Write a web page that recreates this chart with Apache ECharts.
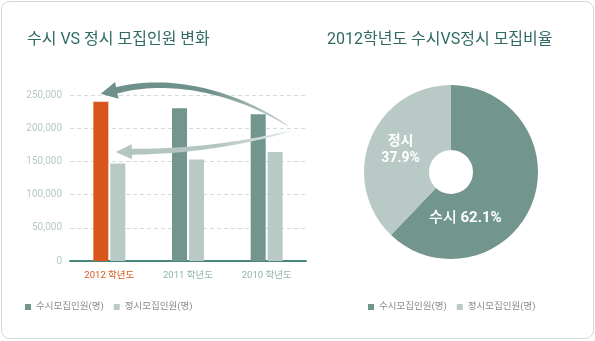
<!DOCTYPE html>
<html>
<head>
<meta charset="utf-8">
<script src="https://cdn.jsdelivr.net/npm/echarts@6/dist/echarts.min.js"></script>
<style>
  html, body { margin: 0; padding: 0; background: #ffffff; }
  #chart { width: 595px; height: 341px; }
</style>
</head>
<body>
<div id="chart"></div>
<script>
// Admission quotas by school year (early vs regular), and the 2012 split.
const categories = ['2012 학년도', '2011 학년도', '2010 학년도'];
const susiValues = [240000, 230000, 221000];      // 수시모집인원
const jeongsiValues = [147000, 153000, 164000];   // 정시모집인원
const seriesNames = ['수시모집인원(명)', '정시모집인원(명)'];
const pieShortNames = ['수시', '정시'];
const pieShares = [62.1, 37.9];
const yMin = 0, yMax = 250000, yInterval = 50000;
const titles = ['수시 VS 정시 모집인원 변화', '2012학년도 수시VS정시 모집비율'];

const FONT = 'Roboto, "Noto Sans CJK KR", sans-serif';
const C_DARK = '#72958e';
const C_LIGHT = '#b8c9c6';
const C_ORANGE = '#d9561a';
const C_TITLE = '#2f6a62';

const chart = echarts.init(document.getElementById('chart'), null, { renderer: 'canvas' });

const option = {
  backgroundColor: '#ffffff',
  animation: false,
  textStyle: { fontFamily: FONT },
  title: [
    { text: titles[0], left: 22, top: 25,
      textStyle: { fontFamily: FONT, fontSize: 16, fontWeight: 'normal', color: C_TITLE, lineHeight: 20 } },
    { text: titles[1], left: 322, top: 25,
      textStyle: { fontFamily: FONT, fontSize: 16, fontWeight: 'normal', color: C_TITLE, lineHeight: 20 } }
  ],
  legend: [
    { data: seriesNames, left: 20, top: 296, icon: 'rect', itemWidth: 6, itemHeight: 6, itemGap: 10,
      selectedMode: false,
      textStyle: { fontFamily: FONT, fontSize: 9.5, color: '#8a8a8a', lineHeight: 12 } },
    { data: seriesNames, left: 363, top: 296, icon: 'rect', itemWidth: 6, itemHeight: 6, itemGap: 10,
      selectedMode: false,
      textStyle: { fontFamily: FONT, fontSize: 9.5, color: '#8a8a8a', lineHeight: 12 } }
  ],
  grid: { left: 70, top: 95, width: 236, height: 166, containLabel: false },
  xAxis: {
    type: 'category',
    data: categories.map((c, i) => i === 0
      ? { value: c, textStyle: { color: C_ORANGE } }
      : c),
    axisLine: { lineStyle: { color: '#4b867d', width: 2 } },
    axisTick: { show: false },
    axisLabel: { fontFamily: FONT, fontSize: 9.5, color: '#8fb3ab', margin: 10 }
  },
  yAxis: {
    type: 'value',
    min: yMin, max: yMax, interval: yInterval,
    axisLine: { show: false },
    axisTick: { show: false },
    axisLabel: {
      fontFamily: FONT, fontSize: 10, color: '#b6cac6', margin: 8,
      formatter: v => v.toLocaleString('en-US')
    },
    splitLine: { lineStyle: { color: '#d3dddb', type: [4, 3], width: 1 } }
  },
  series: [
    {
      name: seriesNames[0], type: 'bar', barWidth: 15, barGap: '13%',
      itemStyle: { color: C_DARK },
      data: susiValues.map((v, i) => i === 0 ? { value: v, itemStyle: { color: C_ORANGE } } : v)
    },
    {
      name: seriesNames[1], type: 'bar', barWidth: 15, barGap: '13%',
      itemStyle: { color: C_LIGHT },
      data: jeongsiValues
    },
    {
      name: '2012 비율', type: 'pie',
      center: [451, 172], radius: [22, 87],
      startAngle: 90, clockwise: true,
      emphasis: { disabled: true },
      labelLine: { show: false },
      data: [
        {
          name: seriesNames[0], value: pieShares[0], itemStyle: { color: C_DARK },
          label: {
            show: true, position: 'inside', offset: [-39, 25],
            formatter: p => pieShortNames[p.dataIndex] + ' {b|' + p.value.toFixed(1) + '%}',
            color: '#ffffff', fontFamily: FONT, fontSize: 15, fontWeight: 500,
            rich: { b: { color: '#ffffff', fontFamily: FONT, fontSize: 15, fontWeight: 'bold' } }
          }
        },
        {
          name: seriesNames[1], value: pieShares[1], itemStyle: { color: C_LIGHT },
          label: {
            show: true, position: 'inside', offset: [3, -1], align: 'left',
            formatter: p => pieShortNames[p.dataIndex] + '\n' + p.value.toFixed(1) + '%',
            color: '#ffffff', fontFamily: FONT, fontSize: 14, fontWeight: 'bold', lineHeight: 17
          }
        }
      ]
    }
  ]
};

chart.setOption(option);

// Curved "trend" arrows sweeping from 2010 toward the 2012 bars.
const X = (i, dx) => chart.convertToPixel({ xAxisIndex: 0 }, i) + dx;
const Y = v => chart.convertToPixel({ yAxisIndex: 0 }, v);

function cubic(p0, p1, p2, p3, t) {
  const u = 1 - t;
  return [
    u*u*u*p0[0] + 3*u*u*t*p1[0] + 3*u*t*t*p2[0] + t*t*t*p3[0],
    u*u*u*p0[1] + 3*u*u*t*p1[1] + 3*u*t*t*p2[1] + t*t*t*p3[1]
  ];
}

function arrowShapes(p0, p1, p2, p3, tip, wTail, wHead, headHalf, cHead, cTail) {
  const n = 40, left = [], right = [];
  for (let k = 0; k <= n; k++) {
    const t = k / n;
    const a = cubic(p0, p1, p2, p3, Math.max(0, t - 0.01));
    const b = cubic(p0, p1, p2, p3, Math.min(1, t + 0.01));
    const p = cubic(p0, p1, p2, p3, t);
    let dx = b[0] - a[0], dy = b[1] - a[1];
    const len = Math.hypot(dx, dy) || 1;
    dx /= len; dy /= len;
    const w = wTail + (wHead - wTail) * Math.pow(t, 0.7);
    left.push([p[0] - dy * w, p[1] + dx * w]);
    right.push([p[0] + dy * w, p[1] - dx * w]);
  }
  const body = left.concat(right.reverse());
  let hx = tip[0] - p3[0], hy = tip[1] - p3[1];
  const hl = Math.hypot(hx, hy) || 1;
  hx /= hl; hy /= hl;
  const head = [
    tip,
    [p3[0] - hy * headHalf + hx * -1.5, p3[1] + hx * headHalf + hy * -1.5],
    [p3[0] + hy * headHalf + hx * -1.5, p3[1] - hx * headHalf + hy * -1.5]
  ];
  const grad = new echarts.graphic.LinearGradient(0, 0, 1, 0, [
    { offset: 0, color: cHead }, { offset: 0.55, color: cHead }, { offset: 1, color: cTail }
  ]);
  return [
    { type: 'polygon', z: 100, silent: true, shape: { points: body }, style: { fill: grad } },
    { type: 'polygon', z: 100, silent: true, shape: { points: head }, style: { fill: cHead } }
  ];
}

const upper = arrowShapes(
  [X(2, 21), Y(203700)], [X(2, -26), Y(250500)], [X(1, -15), Y(280000)], [X(0, 6), Y(256500)],
  [X(0, -8.6), Y(252000)], 0.3, 3.3, 8.5, '#6e928b', '#c9d6d3'
);
const lower = arrowShapes(
  [X(2, 24), Y(196000)], [X(2, -16), Y(179500)], [X(1, 5), Y(164500)], [X(0, 21), Y(164500)],
  [X(0, 6.4), Y(164000)], 0.3, 3.0, 7.5, '#b3c6c2', '#e3eae8'
);

chart.setOption({
  graphic: [
    { type: 'rect', z: -10, silent: true,
      shape: { x: 1.5, y: 1.5, width: 592, height: 337, r: 8 },
      style: { fill: 'none', stroke: '#d0d9d6', lineWidth: 1 } }
  ].concat(upper, lower)
});
</script>
</body>
</html>
